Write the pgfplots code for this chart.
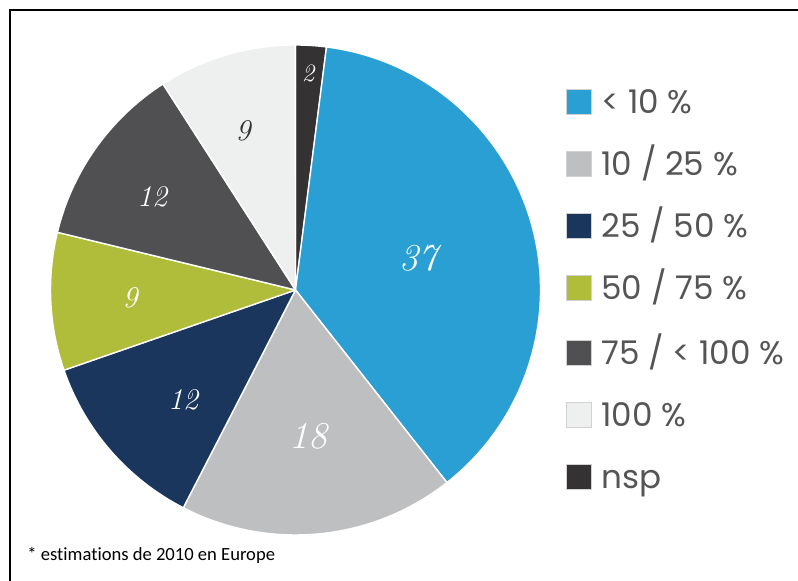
\documentclass[border=0pt]{standalone}
\usepackage{pgfplots}
\pgfplotsset{compat=1.18}
\usepackage{pgfplotstable}
\usepackage{fontspec}
\newfontfamily\legfont{Poppins}
\newfontfamily\notefont[RawFeature={-liga}]{Carlito}

\definecolor{pie0}{HTML}{343233}
\definecolor{pie1}{HTML}{2A9FD4}
\definecolor{pie2}{HTML}{BEBFC1}
\definecolor{pie3}{HTML}{1B365D}
\definecolor{pie4}{HTML}{AFBD3A}
\definecolor{pie5}{HTML}{505053}
\definecolor{pie6}{HTML}{EEF0EF}
\definecolor{txt0}{HTML}{FFFFFF}
\definecolor{txt1}{HTML}{FFFFFF}
\definecolor{txt2}{HTML}{FFFFFF}
\definecolor{txt3}{HTML}{FFFFFF}
\definecolor{txt4}{HTML}{FFFFFF}
\definecolor{txt5}{HTML}{FFFFFF}
\definecolor{txt6}{HTML}{333333}
\definecolor{legtext}{HTML}{555555}

% slices clockwise from 12 o'clock; lx,ly = label position (px), fs = label size (pt)
\pgfplotstableread{
idx value lx  ly  fs
0   2     308 73  12.5
1   37    418 258 19
2   18    308 436 19
3   12    183 400 15
4   9     130 298 15
5   12    152 197 15
6   9     243 131 15
}\pietable

\begin{document}
\begin{tikzpicture}
\begin{axis}[
  x=0.5pt, y=0.5pt,
  xmin=0, xmax=798, ymin=0, ymax=581,
  y dir=reverse,
  hide axis, clip=false,
]
\coordinate (BL) at (axis cs:0,581);
\coordinate (TR) at (axis cs:798,0);
% frame lines
\draw[black, line width=0.8pt] (axis cs:10,581) -- (axis cs:10,10) -- (axis cs:798,10);

% total
\pgfmathsetmacro\total{0}
\pgfplotsforeachungrouped \i in {0,...,6}{%
  \pgfplotstablegetelem{\i}{value}\of\pietable
  \pgfmathsetmacro\total{\total+\pgfplotsretval}%
  \global\let\total\total
}
\gdef\astart{90}
\pgfplotsforeachungrouped \i in {0,...,6}{%
  \pgfplotstablegetelem{\i}{value}\of\pietable
  \let\v=\pgfplotsretval
  \pgfmathsetmacro\aend{\astart-\v/\total*360}%
  \pgfplotstablegetelem{\i}{lx}\of\pietable \let\lx=\pgfplotsretval
  \pgfplotstablegetelem{\i}{ly}\of\pietable \let\ly=\pgfplotsretval
  \pgfplotstablegetelem{\i}{fs}\of\pietable \let\fs=\pgfplotsretval
  \edef\temp{\noexpand\filldraw[fill=pie\i, draw=white, line width=0.7pt, line join=round]
     (axis cs:295.5,290) -- ++(\astart:122.5pt) arc[start angle=\astart, end angle=\aend, radius=122.5pt] -- cycle;
     \noexpand\node[text=txt\i, font=\noexpand\fontsize{\fs}{\fs}\noexpand\selectfont\noexpand\itshape] at (axis cs:\lx,\ly) {\v};}%
  \temp
  \global\let\astart\aend
}

% legend
\foreach \j/\yb/\lab in {1/115/{< 10 \%},2/177/{10 / 25 \%},3/239/{25 / 50 \%},4/301/{50 / 75 \%},5/366/{75 / < 100 \%},6/428/{100 \%},0/490/{nsp}}{
  \edef\temp{\noexpand\filldraw[fill=pie\j, draw=black!18, line width=0.5pt] (axis cs:566.5,\yb) rectangle (axis cs:591.5,\yb-25);}
  \temp
  \edef\temp{\noexpand\node[anchor=base west, inner sep=0pt, text=legtext, font=\noexpand\legfont\noexpand\fontsize{16.3}{18}\noexpand\selectfont] at (axis cs:601,\yb-1) {\unexpanded\expandafter{\lab}};}
  \temp
}

\node[anchor=base west, inner sep=0pt, font=\notefont\fontsize{9.3}{10}\selectfont] at (axis cs:27,561) {* estimations de 2010 en Europe};
\end{axis}
\pgfresetboundingbox
\useasboundingbox (BL) rectangle (TR);
\end{tikzpicture}
\end{document}
